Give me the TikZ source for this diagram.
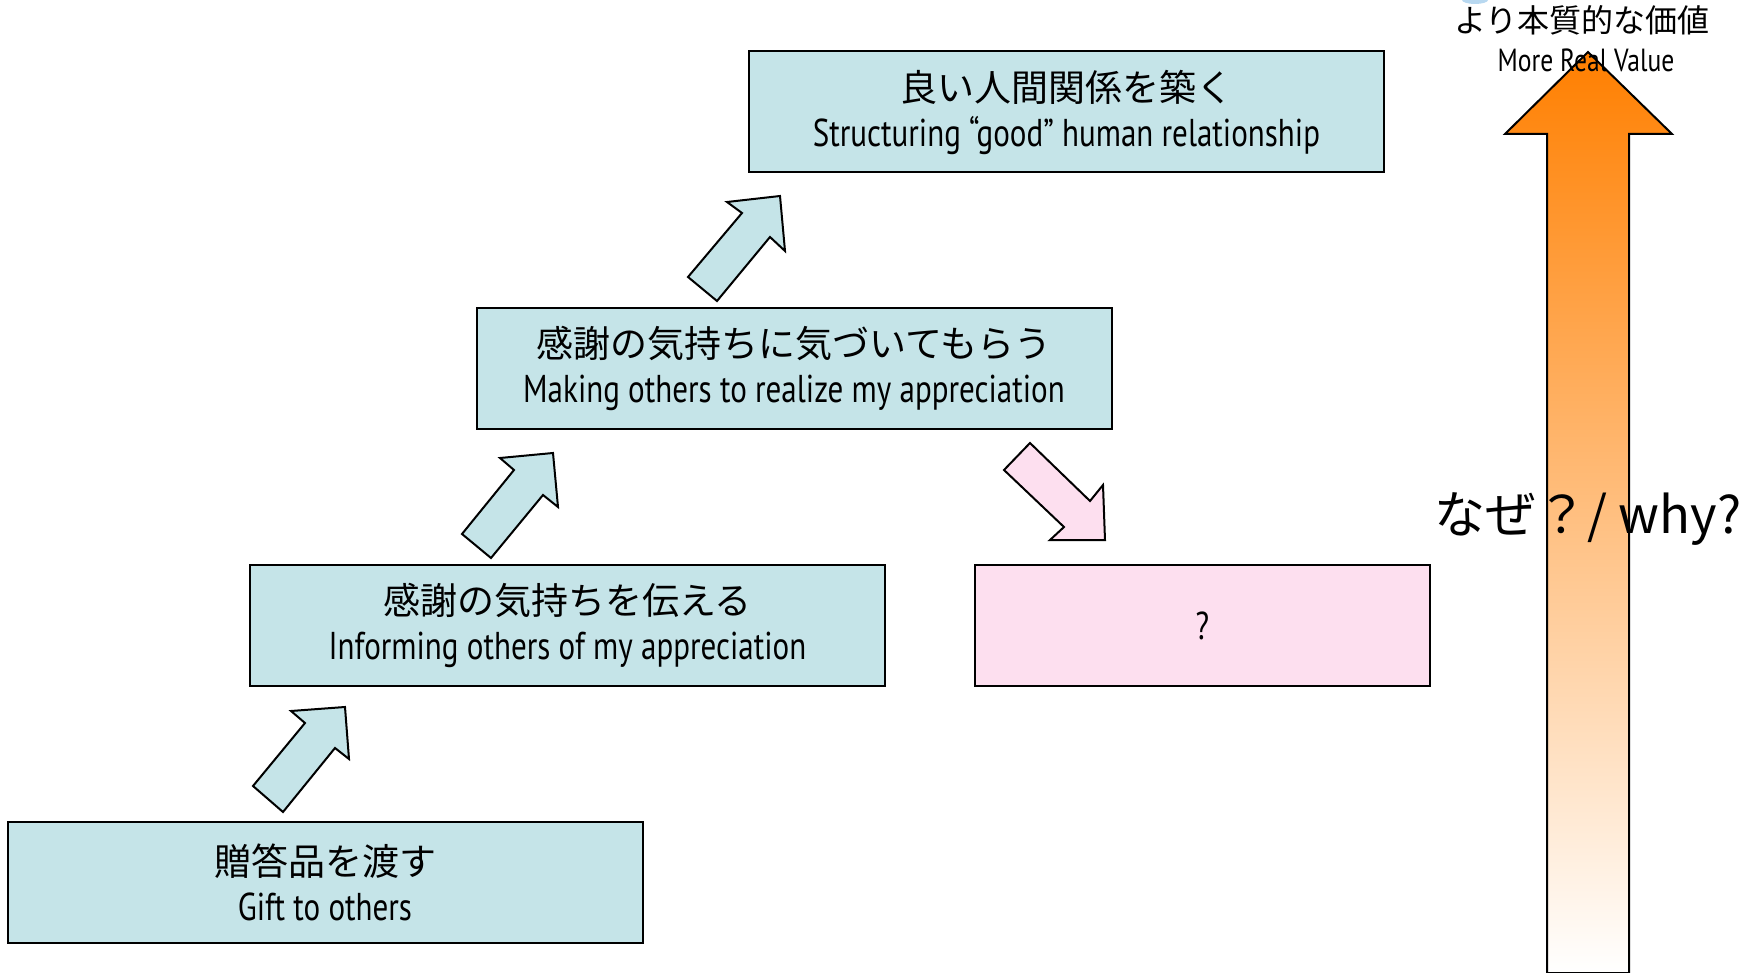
\documentclass[tikz,border=0pt]{standalone}
\usepackage{fontspec}
\newfontfamily\jp{Noto Sans CJK JP}
\newfontfamily\cond[FakeStretch=0.8]{PT Sans}
\newcommand{\en}[1]{{\cond\fontsize{19.4}{22}\selectfont #1}}
\definecolor{boxblue}{HTML}{C5E4E8}
\definecolor{boxpink}{HTML}{FDDFEF}
\definecolor{arroworange}{HTML}{FF7F00}
\definecolor{fragblue}{HTML}{B8D8F0}
\tikzset{
  stepbox/.style={draw=black, line width=1pt, fill=boxblue, rectangle,
    minimum width=317.5pt, minimum height=60.5pt, align=center, inner sep=0pt,
    font=\fontsize{18.5}{22.5}\selectfont},
  pinkbox/.style={stepbox, fill=boxpink, minimum width=227.5pt},
  blockarrow/.style={draw=black, line width=1pt, fill=boxblue, line join=miter},
  pinkarrow/.style={blockarrow, fill=boxpink},
}
\begin{document}
\begin{tikzpicture}[x=0.5pt, y=-0.5pt]
\useasboundingbox (0,0) rectangle (1758,973);
% small clipped fragment at the top
\begin{scope}
\clip (0,0) rectangle (1758,973);
\fill[fragblue] (1475,0) ellipse (13 and 4);
\end{scope}
% boxes
\node[stepbox] (top) at (1066.5,112) {\rule{0pt}{3pt}{\jp 良い人間関係を築く}\\\en{Structuring “good” human relationship}};
\node[stepbox] (mid) at (794,368.5) {\rule{0pt}{3pt}{\jp 感謝の気持ちに気づいてもらう}\\\en{Making others to realize my appreciation}};
\node[stepbox] (inf) at (567.5,625.5) {\rule{0pt}{3pt}{\jp 感謝の気持ちを伝える}\\\en{Informing others of my appreciation}};
\node[stepbox] (gift) at (325,882.5) {\rule{0pt}{3pt}{\jp 贈答品を渡す}\\\en{Gift to others}};
\node[pinkbox] (q) at (1202.5,625.5) {\en{?}};
% block arrows
\draw[blockarrow] (253,786) -- (283,812) -- (335,748) -- (349,759) -- (345,707) -- (291,711) -- (305,723) -- cycle;
\draw[blockarrow] (462,534) -- (491,558) -- (543,495) -- (558,507) -- (553,453) -- (500,458) -- (514,470) -- cycle;
\draw[blockarrow] (688,277) -- (717,301) -- (770,237) -- (785,251) -- (780,196) -- (727,202) -- (742,213) -- cycle;
\draw[pinkarrow] (1030,443) -- (1004,470) -- (1064,527) -- (1050,540) -- (1105,540) -- (1103,485) -- (1090,501) -- cycle;
% big value arrow
\draw[line width=1pt, top color=arroworange, bottom color=white, line join=miter]
  (1547,973) -- (1547,134) -- (1505,134) -- (1588,52) -- (1672,134) -- (1629,134) -- (1629,973) -- cycle;
\node[font=\jp\fontsize{16}{18}\selectfont, inner sep=0pt] (vjp) at (1582,20) {より本質的な価値};
\node[font=\cond\fontsize{16}{18}\selectfont, inner sep=0pt] (ven) at (1586,60) {More Real Value};
\node[font=\jp\fontsize{25.5}{30}\selectfont, inner sep=0pt] (why) at (1588,519) {なぜ？/ why?};
\end{tikzpicture}
\end{document}
